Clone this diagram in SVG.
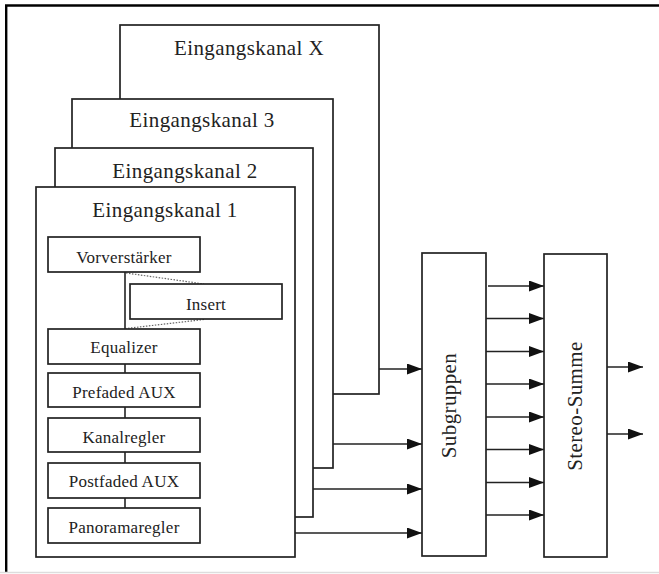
<svg xmlns="http://www.w3.org/2000/svg" width="659" height="574" viewBox="0 0 659 574">
<style>
.box{fill:#fff;stroke:#222;stroke-width:1.7}
.ln{fill:none;stroke:#222;stroke-width:1.6}
.dot{fill:none;stroke:#666;stroke-width:1.2;stroke-dasharray:1.5 1.5}
.t{font-family:"Liberation Serif","Times New Roman",serif;fill:#222;text-anchor:middle}
.big{font-size:21px;letter-spacing:0.4px}
.sm{font-size:17px;letter-spacing:0.25px}
</style>
<defs>
<marker id="ah" markerUnits="userSpaceOnUse" markerWidth="15" markerHeight="11" refX="15" refY="5.5" orient="auto">
<path d="M0,0 L15,5.5 L0,11 z" fill="#111"/>
</marker>
</defs>
<rect x="0" y="0" width="659" height="574" fill="#fff"/>
<g id="frame">
<line x1="5" y1="5.5" x2="659" y2="5.5" stroke="#000" stroke-width="2.5"/>
<line x1="6.2" y1="5" x2="6.2" y2="572" stroke="#000" stroke-width="2.4"/>
<line x1="0" y1="572.5" x2="659" y2="572.5" stroke="#ddd" stroke-width="1.5"/>
</g>
<g id="kanalX">
<rect class="box" x="120" y="25" width="259" height="369"/>
<text class="t big" x="249" y="55">Eingangskanal X</text>
</g>
<g id="kanal3">
<rect class="box" x="72" y="99" width="261" height="369"/>
<text class="t big" x="202" y="127">Eingangskanal 3</text>
</g>
<g id="kanal2">
<rect class="box" x="55" y="148" width="258" height="369"/>
<text class="t big" x="185" y="178">Eingangskanal 2</text>
</g>
<g id="kanal1">
<rect class="box" x="36" y="187" width="259" height="370"/>
<text class="t big" x="165" y="217">Eingangskanal 1</text>
</g>
<g id="connectors">
<line class="ln" x1="125" y1="272" x2="125" y2="329"/>
<line class="ln" x1="125" y1="364" x2="125" y2="373"/>
<line class="ln" x1="125" y1="407" x2="125" y2="418"/>
<line class="ln" x1="125" y1="452" x2="125" y2="463"/>
<line class="ln" x1="125" y1="498" x2="125" y2="508"/>
<line class="dot" x1="126" y1="273" x2="204" y2="284"/>
<line class="dot" x1="204" y1="319.5" x2="126" y2="328.5"/>
<line class="ln" x1="379" y1="369" x2="422" y2="369" marker-end="url(#ah)"/>
<line class="ln" x1="333" y1="444" x2="422" y2="444" marker-end="url(#ah)"/>
<line class="ln" x1="313" y1="489" x2="422" y2="489" marker-end="url(#ah)"/>
<line class="ln" x1="295" y1="533" x2="422" y2="533" marker-end="url(#ah)"/>
<line class="ln" x1="488" y1="286" x2="544" y2="286" marker-end="url(#ah)"/>
<line class="ln" x1="486" y1="318.5" x2="544" y2="318.5" marker-end="url(#ah)"/>
<line class="ln" x1="486" y1="351.5" x2="544" y2="351.5" marker-end="url(#ah)"/>
<line class="ln" x1="486" y1="384" x2="544" y2="384" marker-end="url(#ah)"/>
<line class="ln" x1="486" y1="417" x2="544" y2="417" marker-end="url(#ah)"/>
<line class="ln" x1="486" y1="449.5" x2="544" y2="449.5" marker-end="url(#ah)"/>
<line class="ln" x1="486" y1="482.5" x2="544" y2="482.5" marker-end="url(#ah)"/>
<line class="ln" x1="486" y1="515" x2="544" y2="515" marker-end="url(#ah)"/>
<line class="ln" x1="607" y1="367" x2="643" y2="367" marker-end="url(#ah)"/>
<line class="ln" x1="607" y1="434" x2="643" y2="434" marker-end="url(#ah)"/>
</g>
<g id="vorverstaerker">
<rect class="box" x="48" y="237" width="152" height="35"/>
<text class="t sm" x="124" y="263">Vorverstärker</text>
</g>
<g id="insert">
<rect class="box" x="130" y="284" width="152" height="35"/>
<text class="t sm" x="206" y="310">Insert</text>
</g>
<g id="equalizer">
<rect class="box" x="48" y="329" width="152" height="35"/>
<text class="t sm" x="124" y="353">Equalizer</text>
</g>
<g id="prefaded">
<rect class="box" x="48" y="373" width="152" height="34"/>
<text class="t sm" x="124" y="398">Prefaded AUX</text>
</g>
<g id="kanalregler">
<rect class="box" x="48" y="418" width="152" height="34"/>
<text class="t sm" x="124" y="443">Kanalregler</text>
</g>
<g id="postfaded">
<rect class="box" x="48" y="463" width="152" height="35"/>
<text class="t sm" x="124" y="487">Postfaded AUX</text>
</g>
<g id="panoramaregler">
<rect class="box" x="48" y="508" width="152" height="35"/>
<text class="t sm" x="124" y="533">Panoramaregler</text>
</g>
<g id="subgruppen">
<rect class="box" x="422" y="253" width="64" height="303"/>
<text class="t big" transform="translate(456,405.5) rotate(-90)">Subgruppen</text>
</g>
<g id="stereosumme">
<rect class="box" x="544" y="254" width="63" height="303"/>
<text class="t big" transform="translate(582,406) rotate(-90)">Stereo-Summe</text>
</g>
</svg>
